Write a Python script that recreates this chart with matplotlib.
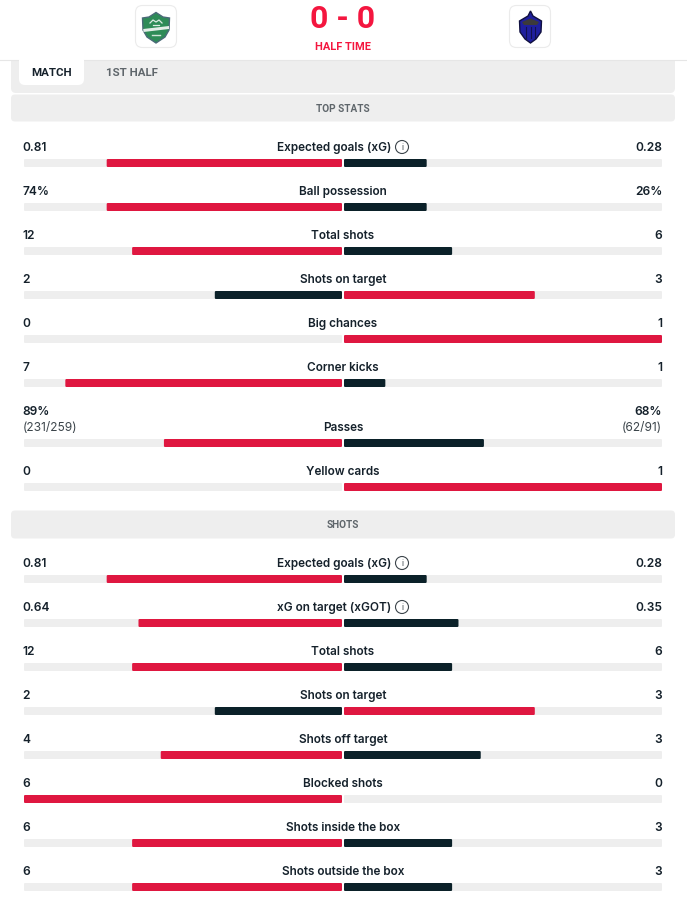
import matplotlib
matplotlib.use("Agg")
import matplotlib.pyplot as plt
from matplotlib.patches import FancyBboxPatch, Polygon, Circle

# ---- data ----
top_labels = ["Expected goals (xG)", "Ball possession", "Total shots", "Shots on target",
              "Big chances", "Corner kicks", "Passes", "Yellow cards"]
top_home = [0.81, 74, 12, 2, 0, 7, 89, 0]
top_away = [0.28, 26, 6, 3, 1, 1, 68, 1]
top_home_text = ["0.81", "74%", "12", "2", "0", "7", "89%", "0"]
top_away_text = ["0.28", "26%", "6", "3", "1", "1", "68%", "1"]
passes_home_detail = "(231/259)"
passes_away_detail = "(62/91)"

shot_labels = ["Expected goals (xG)", "xG on target (xGOT)", "Total shots", "Shots on target",
               "Shots off target", "Blocked shots", "Shots inside the box", "Shots outside the box"]
shot_home = [0.81, 0.64, 12, 2, 4, 6, 6, 6]
shot_away = [0.28, 0.35, 6, 3, 3, 0, 3, 3]
shot_home_text = ["0.81", "0.64", "12", "2", "4", "6", "6", "6"]
shot_away_text = ["0.28", "0.35", "6", "3", "3", "0", "3", "3"]
info_labels = ["Expected goals (xG)", "xG on target (xGOT)"]

score_text = "0 - 0"
status_text = "HALF TIME"
tabs = ["MATCH", "1ST HALF"]
sections = ["TOP STATS", "SHOTS"]

# ---- style ----
W, H = 687, 904
RED = "#DF1740"
DARK = "#0B2129"
TRACK = "#EEEEEE"
SCORE = "#F4163F"
INK = "#15212B"
GREY = "#5F666B"
PX = 0.72  # px to pt at dpi 100
BODY = "Inter"
HEAD = "Roboto"
LABEL_PX = 11.8

fig = plt.figure(figsize=(W / 100, H / 100), dpi=100, facecolor="white")
ax = fig.add_axes([0, 0, 1, 1])
ax.set_xlim(0, W)
ax.set_ylim(H - 1, -1)
ax.axis("off")


def rbox(x0, y0, x1, y1, r, fc, ec="none", lw=0, z=1):
    ax.add_patch(FancyBboxPatch((x0 + r, y0 + r), x1 - x0 - 2 * r, y1 - y0 - 2 * r,
                                boxstyle=f"round,pad={r},rounding_size={r}",
                                fc=fc, ec=ec, lw=lw, zorder=z))


# panels under the header
rbox(11, 52, 675, 93, 5, TRACK)
ax.add_patch(plt.Rectangle((0, -1), W, 61, fc="white", ec="none", zorder=2))
ax.plot([0, W], [59.5, 59.5], color="#E6E6E6", lw=0.8, zorder=2.5)
rbox(19, 55, 84, 85, 6, "white", z=3)
ax.add_patch(plt.Rectangle((19, 60), 65, 5, fc="white", ec="none", zorder=3))

# crest tiles
rbox(135.5, 5.5, 176.5, 47.5, 7, "white", "#EBEBEB", 0.8, z=3)
rbox(509.5, 5.5, 550.5, 47.5, 7, "white", "#EBEBEB", 0.8, z=3)

# home crest
ax.add_patch(Polygon([(142.5, 18), (149, 17), (156, 12.5), (163, 17), (169.5, 18), (169, 30),
                      (165, 37), (156, 43), (147, 37), (143, 30)],
                     fc="#2E8B57", ec="#4A6A78", lw=1.0, zorder=4))
ax.add_patch(Polygon([(143.2, 29), (169, 26), (169, 29), (143.5, 32)], fc="#E4EDE8", ec="none", zorder=5))
ax.plot([150, 153, 156, 159, 162], [23, 20, 22, 20, 23], color="#DDEBE3", lw=0.9, zorder=5)
ax.plot([153, 159], [24.5, 24.5], color="#DDEBE3", lw=0.9, zorder=5)
ax.plot([152, 160], [35, 35], color="#CFE3D7", lw=1.0, zorder=5)

# away crest
ax.add_patch(Polygon([(530.5, 11), (533, 16), (541.5, 21), (541, 32), (536, 39), (530.5, 43),
                      (525, 39), (520, 32), (519.5, 21), (528, 16)],
                     fc="#1F1F9E", ec="#10103F", lw=1.0, zorder=4))
ax.add_patch(Polygon([(522, 22), (530.5, 18.5), (539, 22), (537, 25), (524, 25)], fc="#3C3A3A", ec="none", zorder=5))
for xl in [526, 530.5, 535]:
    ax.plot([xl, xl], [27, 38], color="#12124F", lw=0.8, zorder=5)

ax.text(343, 18.5, score_text, ha="center", va="center", color=SCORE,
        fontsize=32 * PX, family=HEAD, weight="bold", zorder=5)
ax.text(343, 46.5, status_text, ha="center", va="center", color=SCORE,
        fontsize=11 * PX, family=HEAD, weight="bold", zorder=5)

ax.text(51.5, 71.5, tabs[0], ha="center", va="center", color=INK, fontsize=11.5 * PX,
        family=HEAD, weight="bold", zorder=5)
ax.text(131.5, 71.5, tabs[1], ha="center", va="center", color=GREY, fontsize=11.5 * PX,
        family=HEAD, weight="bold", zorder=5)
rbox(11, 94.5, 675, 121.5, 4, TRACK)
rbox(11, 510.5, 675, 538.5, 4, TRACK)
ax.text(343, 108, sections[0], ha="center", va="center", color=GREY, fontsize=10 * PX,
        family=HEAD, weight="bold")
ax.text(343, 524, sections[1], ha="center", va="center", color=GREY, fontsize=10 * PX,
        family=HEAD, weight="bold")

# stat rows
TRACK_W = 318
L_END, R_START = 342, 344
H_BAR = 6
CAP = 1.0


def bar(edge, length, yc, color, side, z):
    if length <= 0:
        return
    left = edge - length + CAP if side == "L" else edge + CAP
    ax.barh(yc, length - 2 * CAP, left=left, height=H_BAR, color=color, edgecolor=color,
            linewidth=2 * CAP * PX, joinstyle="round", zorder=z, snap=False)


def info_icon(x, y):
    ax.add_patch(Circle((x, y), 6.5, fc="none", ec="#3C454B", lw=0.8, zorder=5))
    ax.text(x, y, "i", ha="center", va="center", color="#3C454B", fontsize=8.5 * PX,
            family=BODY, zorder=5)


def rows(labels, home, away, home_text, away_text, ys):
    for lab, h, a, ht, at, y in zip(labels, home, away, home_text, away_text, ys):
        barc = y + 16
        bar(L_END, TRACK_W, barc, TRACK, "L", 2)
        bar(R_START, TRACK_W, barc, TRACK, "R", 2)
        # the page rounds the home share down to a whole percent
        pct = int(100 * h / (h + a) + 1e-9)
        hc, ac = (RED, DARK) if h > a else (DARK, RED)
        bar(L_END, TRACK_W * pct / 100, barc, hc, "L", 3)
        bar(R_START, TRACK_W * (100 - pct) / 100, barc, ac, "R", 3)
        if lab in info_labels:
            ax.text(334, y, lab, ha="center", va="center", color=INK, fontsize=LABEL_PX * PX,
                    family=BODY, weight="semibold")
            info_icon(402, y)
        else:
            ax.text(343, y, lab, ha="center", va="center", color=INK, fontsize=LABEL_PX * PX,
                    family=BODY, weight="semibold")
        vy = y - 16 if lab == "Passes" else y
        ax.text(22.5, vy, ht, ha="left", va="center", color=INK, fontsize=12 * PX,
                family=BODY, weight="semibold")
        ax.text(662, vy, at, ha="right", va="center", color=INK, fontsize=12 * PX,
                family=BODY, weight="semibold")
        if lab == "Passes":
            ax.text(22.5, y, passes_home_detail, ha="left", va="center", color="#3C454B",
                    fontsize=12 * PX, family=BODY)
            ax.text(662, y, passes_away_detail, ha="right", va="center", color="#3C454B",
                    fontsize=12 * PX, family=BODY)


top_y = [147, 191, 235, 279, 323, 367, 427, 471]
shot_y = [563, 607, 651, 695, 739, 783, 827, 871]
rows(top_labels, top_home, top_away, top_home_text, top_away_text, top_y)
rows(shot_labels, shot_home, shot_away, shot_home_text, shot_away_text, shot_y)

fig.savefig("out.png", dpi=100, facecolor="white")
